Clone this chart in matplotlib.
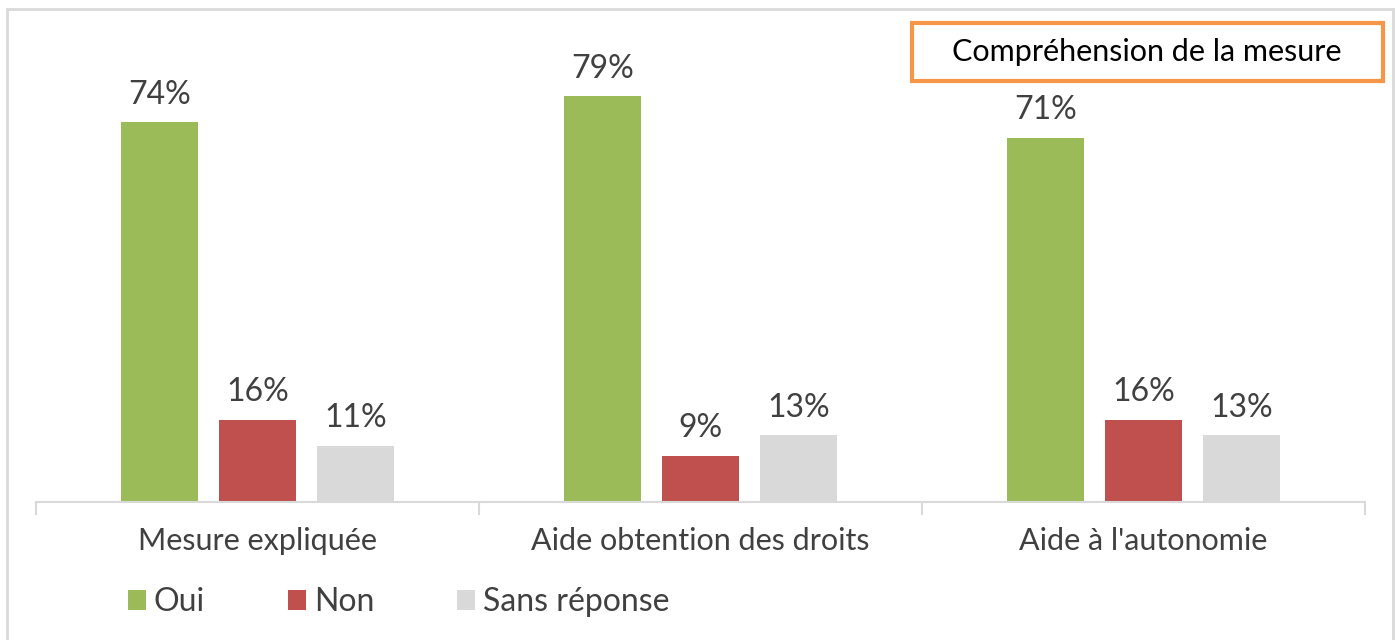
import matplotlib.pyplot as plt
import numpy as np
from matplotlib.patches import Rectangle

plt.rcParams['font.family'] = ['Lato', 'DejaVu Sans']

categories = ['Mesure expliquée', 'Aide obtention des droits', "Aide à l'autonomie"]
series = ['Oui', 'Non', 'Sans réponse']
oui = [74, 79, 71]
non = [16, 9, 16]
sans_rep = [11, 13, 13]
title = 'Compréhension de la mesure'

colors = ['#9BBB59', '#C0504D', '#D9D9D9']
txt = '#404040'

fig = plt.figure(figsize=(13.99, 6.4), dpi=100)
ax = fig.add_axes([36 / 1399, 138 / 640, 1329 / 1399, 462 / 640])

x = np.arange(len(categories))
width = 0.174
offs = [-0.221, 0, 0.221]
handles = []
for vals, off, c, name in zip([oui, non, sans_rep], offs, colors, series):
    b = ax.bar(x + off, vals, width, color=c, label=name)
    handles.append(b)
    for xi, v in zip(x + off, vals):
        ax.annotate(f'{v}%', (xi, v), xytext=(0, 9), textcoords='offset points',
                    ha='center', va='bottom', fontsize=23, color=txt)

ax.set_xlim(-0.5, 2.5)
ax.set_ylim(0, 90)
ax.set_yticks([])
for s in ['top', 'right', 'left']:
    ax.spines[s].set_visible(False)
ax.spines['bottom'].set_color('#D9D9D9')
ax.spines['bottom'].set_linewidth(1.5)

# category boundaries as ticks, labels in the middle
ax.set_xticks([-0.5, 0.5, 1.5, 2.5])
ax.set_xticklabels([])
ax.tick_params(axis='x', length=9, width=1.5, color='#D9D9D9')
ax.set_xticks(x, minor=True)
ax.set_xticklabels(categories, minor=True, fontsize=22, color=txt)
ax.tick_params(axis='x', which='minor', length=0, pad=18)

leg = fig.legend(handles=handles, labels=series, loc='center left',
                 bbox_to_anchor=(0.071, 0.059), ncol=3, frameon=False,
                 fontsize=23, handlelength=0.56, handleheight=0.56,
                 handletextpad=0.25, columnspacing=2.6, labelcolor=txt)

# title box
fig.text(1147 / 1399, 1 - 52 / 640, title, ha='center', va='center',
         fontsize=22, color='black')
fig.patches.append(Rectangle((912 / 1399, 1 - 81 / 640), 471 / 1399, 58 / 640,
                             transform=fig.transFigure, fill=False,
                             edgecolor='#F79646', linewidth=3))

# outer frame
fig.patches.append(Rectangle((7 / 1399, -0.05), 1386 / 1399, 1.05 - 9 / 640,
                             transform=fig.transFigure, fill=False,
                             edgecolor='#D9D9D9', linewidth=2))

fig.savefig('out.png', dpi=100)
